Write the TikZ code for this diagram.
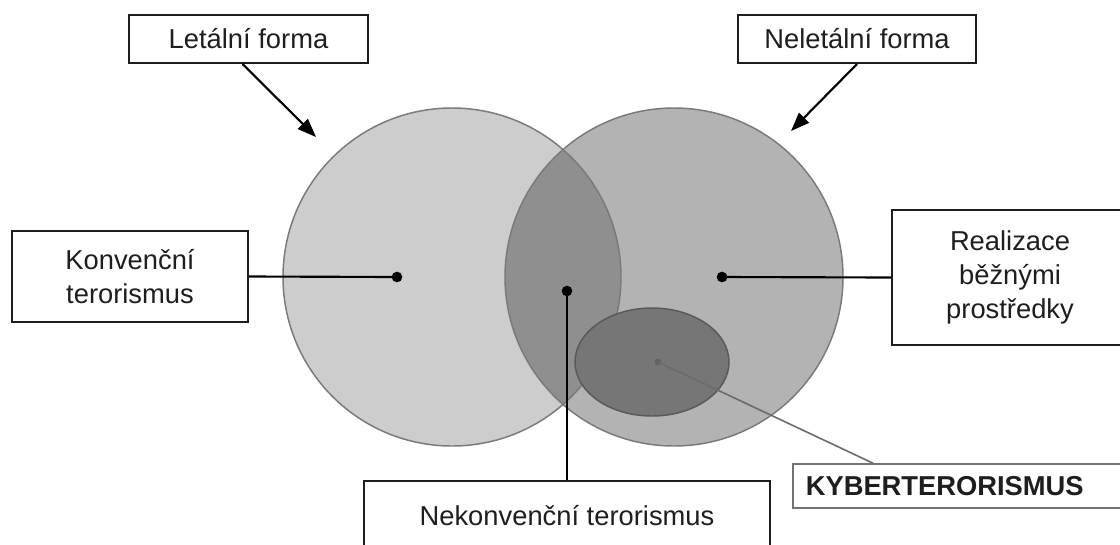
\documentclass[tikz,border=0pt]{standalone}
\usepackage{fontspec}
\setmainfont{Liberation Sans}
\usetikzlibrary{arrows.meta,calc}

\definecolor{lethal}{HTML}{CDCDCD}
\definecolor{nonlethal}{HTML}{B3B3B3}
\definecolor{overlap}{HTML}{8F8F8F}
\definecolor{cyber}{HTML}{767676}
\definecolor{rim}{HTML}{7A7A7A}
\definecolor{ink}{HTML}{1E1E1E}

\begin{document}
\begin{tikzpicture}[
  x=0.75pt, y=-0.75pt,
  every node/.style={font=\fontsize{20.5pt}{25.5pt}\selectfont, text=ink},
  label box/.style={draw=ink, line width=1.5pt, fill=white, align=center, inner sep=0pt},
  leader/.style={draw=black, line width=1.6pt},
  pointer/.style={leader, -{Triangle[length=14pt,width=10.5pt]}},
  hub/.style={circle, fill=black, inner sep=0pt, minimum size=8pt},
]
\useasboundingbox (0,0) rectangle (1120,544);
\clip (0,0) rectangle (1120,544);

% the two sets
\fill[lethal] (452,277) circle[radius=126.75pt];
\fill[nonlethal] (674,277) circle[radius=126.75pt];
\begin{scope}
  \clip (452,277) circle[radius=126.75pt];
  \fill[overlap] (674,277) circle[radius=126.75pt];
\end{scope}
\draw[rim, line width=1.1pt] (452,277) circle[radius=126.75pt];
\draw[rim, line width=1.1pt] (674,277) circle[radius=126.75pt];

% cyber-terrorism subset
\draw[draw=black!65, line width=1.1pt, fill=cyber] (652,362) ellipse[x radius=57.75pt, y radius=40.5pt];

% reference points
\node[hub] (conv) at (397,277) {};
\node[hub] (real) at (722,277) {};
\node[hub] (unconv) at (567,291) {};
\node[circle, fill=black!62, inner sep=0pt, minimum size=5pt] (cyb) at (658,362) {};

% labels
\node[label box, minimum width=179.25pt, minimum height=36pt] (letbox) at (248.5,39) {Letální forma};
\node[label box, minimum width=178.5pt, minimum height=36pt] (neletbox) at (857,39) {Neletální forma};
\node[label box, minimum width=177pt, minimum height=68.25pt] (konvbox) at (130,276.5) {Konvenční\\terorismus};
\node[label box, minimum width=177pt, minimum height=101.25pt] (realbox) at (1010,277.5) {Realizace\\běžnými\\prostředky};
\node[label box, minimum width=304.5pt, minimum height=52.5pt] (nekonvbox) at (567,516) {Nekonvenční terorismus};
\node[draw=black!55, line width=1.2pt, fill=white, anchor=west, text width=235.5pt, align=left,
      inner xsep=9.75pt, inner ysep=0pt, minimum height=33pt, font=\fontsize{20.5pt}{25.5pt}\selectfont\bfseries]
      (kyberbox) at (792,486) {KYBERTERORISMUS};

% connectors
\coordinate (lettip) at (316,137);
\coordinate (nelettip) at (791,131);
\draw[pointer] ($(letbox.south)+(-6,0)$) -- (lettip);
\draw[pointer] (neletbox.south) -- (nelettip);
\draw[leader] (konvbox.east) -- (conv.center);
\draw[leader] (real.center) -- (realbox.west);
\draw[leader] (unconv.center) -- (nekonvbox.north);
\draw[draw=black!58, line width=1.2pt] (cyb.center) -- ($(kyberbox.north west)+(81,0)$);
\end{tikzpicture}
\end{document}
